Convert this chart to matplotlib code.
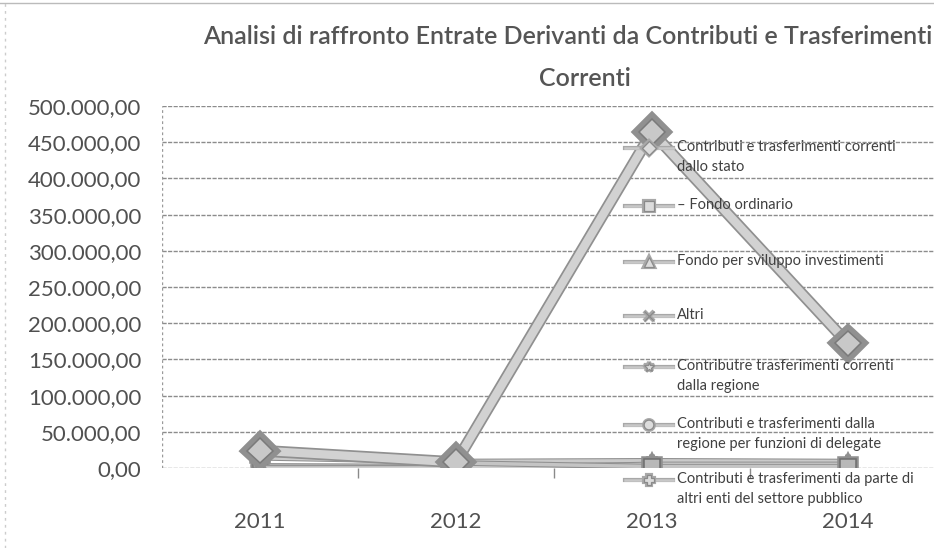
import matplotlib
matplotlib.use("Agg")
import matplotlib.pyplot as plt
from matplotlib.lines import Line2D
from matplotlib.ticker import FixedLocator, FuncFormatter
import matplotlib.patheffects as pe

years = ["2011", "2012", "2013", "2014"]
series_labels = [
    "Contributi e trasferimenti correnti\ndallo stato",
    "– Fondo ordinario",
    "Fondo per sviluppo investimenti",
    "Altri",
    "Contributre trasferimenti correnti\ndalla regione",
    "Contributi e trasferimenti dalla\nregione per funzioni di delegate",
    "Contributi e trasferimenti da parte di\naltri enti del settore pubblico",
]
stato = [24000, 8000, 464000, 172000]
fondo_ordinario = [20000, 7000, 2000, 2000]
fondo_sviluppo = [0, 0, 5000, 5000]
altri = [1000, 500, 500, 500]
regione = [14000, 9000, 10000, 9000]
delegate = [3000, 2000, 3000, 3000]
altri_enti = [0, 0, 0, 0]
values = [stato, fondo_ordinario, fondo_sviluppo, altri, regione, delegate, altri_enti]
yticks = [0, 50000, 100000, 150000, 200000, 250000, 300000, 350000, 400000, 450000, 500000]

FONT = "Lato"
W, H = 934, 548
fig = plt.figure(figsize=(W / 100, H / 100), dpi=100)
fig.patch.set_facecolor("white")

def fx(px):
    return px / W

def fy(py):
    return 1 - py / H

ax = fig.add_axes([fx(162), fy(468), fx(946) - fx(162), fy(106) - fy(468)])
ax.set_facecolor("none")
for s in ax.spines.values():
    s.set_visible(False)

# grid lines
for v in yticks:
    ax.axhline(v, color="#8c8c8c", lw=1.0, ls=(0, (3, 1)), zorder=1)
ax.axvline(-0.5, ymin=0, ymax=1, color="#9a9a9a", lw=1.0, ls=(0, (2, 2)), zorder=1)

styles = [
    dict(marker="D", ms=13, lw=6, color="#d2d2d2", mec="#7a7a7a", mfc="#c8c8c8", edge=8.5),
    dict(marker="s", ms=11, lw=2.5, color="#c4c4c4", mec="#6e6e6e", mfc="#b8b8b8", edge=4),
    dict(marker="^", ms=10, lw=2.5, color="#cfcfcf", mec="#7a7a7a", mfc="#e0e0e0", edge=4),
    dict(marker="x", ms=7, lw=2.5, color="#bdbdbd", mec="#6e6e6e", mfc="#6e6e6e", edge=4),
    dict(marker="*", ms=9, lw=2.5, color="#cacaca", mec="#7a7a7a", mfc="#d0d0d0", edge=4),
    dict(marker="o", ms=10, lw=2.5, color="#d0d0d0", mec="#7a7a7a", mfc="#e6e6e6", edge=4),
    dict(marker="P", ms=9, lw=2.5, color="#cdcdcd", mec="#7a7a7a", mfc="#dcdcdc", edge=4),
]

x = list(range(len(years)))
order = [6, 5, 3, 2, 4, 1, 0]
for i in order:
    st = styles[i]
    ax.plot(x, values[i], color=st["color"], lw=st["lw"], marker=st["marker"],
            ms=st["ms"], mec=st["mec"], mfc=st["mfc"], mew=1.1,
            solid_capstyle="butt", zorder=3 + (7 - i),
            path_effects=[pe.Stroke(linewidth=st["edge"], foreground="#909090"), pe.Normal()])

ax.set_xlim(-0.5, 3.5)
ax.set_ylim(0, 500000)
ax.yaxis.set_major_locator(FixedLocator(yticks))
ax.yaxis.set_major_formatter(FuncFormatter(
    lambda v, p: f"{v:,.2f}".replace(",", "X").replace(".", ",").replace("X", ".")))
ax.tick_params(axis="y", length=0, pad=15, labelsize=16, labelcolor="#505050")
ax.set_xticks(x)
ax.set_xticklabels(years)
ax.set_xticks([0.5, 1.5, 2.5], minor=True)
ax.tick_params(axis="x", which="major", length=0, pad=32, labelsize=16, labelcolor="#505050")
ax.tick_params(axis="x", which="minor", length=7, width=1, color="#8a8a8a", direction="out")
for lab in ax.get_xticklabels() + ax.get_yticklabels():
    lab.set_fontfamily(FONT)

# title
fig.text(fx(568), fy(37), "Analisi di raffronto Entrate Derivanti da Contributi e Trasferimenti",
         ha="center", va="center", fontsize=18, fontweight="semibold", family=FONT, color="#555555")
fig.text(fx(585), fy(79), "Correnti", ha="center", va="center", fontsize=18,
         fontweight="semibold", family=FONT, color="#555555")

# legend (manual, Excel-style)
entry_y = [148, 206, 262, 316, 367, 425, 480]
for i, yy in enumerate(entry_y):
    st = styles[i]
    h = Line2D([fx(625), fx(649), fx(673)], [fy(yy)] * 3, transform=fig.transFigure,
               color="#c8c8c8", lw=1.8, marker=st["marker"], markevery=[1],
               ms=7, mec="#8a8a8a", mfc="#dcdcdc", mew=0.9, zorder=2,
               path_effects=[pe.Stroke(linewidth=3, foreground="#a8a8a8"), pe.Normal()])
    fig.add_artist(h)
    fig.text(fx(677), fy(yy - 8), series_labels[i], ha="left", va="top", fontsize=10.5,
             family=FONT, color="#404040", linespacing=1.55)

# scan page borders
fig.add_artist(Line2D([0, 1], [fy(3), fy(3)], transform=fig.transFigure, color="#bbbbbb", lw=1))
fig.add_artist(Line2D([fx(5), fx(5)], [0, 1], transform=fig.transFigure, color="#cccccc", lw=1, ls=(0, (2, 3))))

fig.savefig("out.png", dpi=100, facecolor="white")
